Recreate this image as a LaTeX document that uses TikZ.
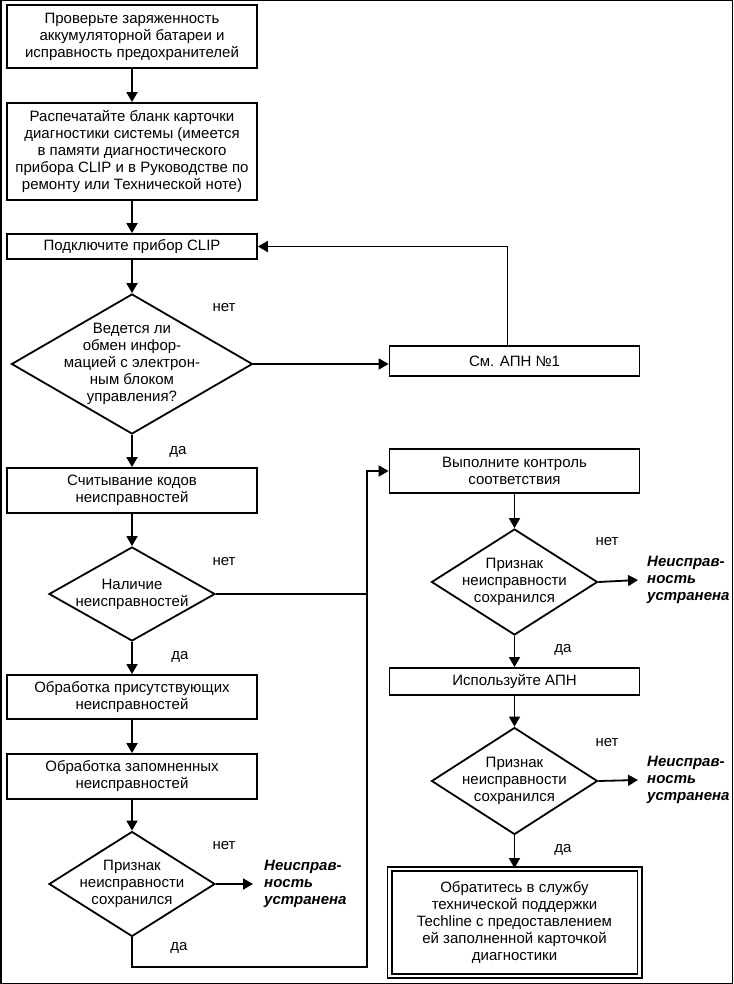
\documentclass[tikz,border=0pt]{standalone}
\usepackage{fontspec}
\setmainfont{Liberation Sans}
\usetikzlibrary{shapes.geometric,arrows.meta}
\begin{document}
\begin{tikzpicture}[x=1pt,y=-1pt,
  every node/.style={font=\fontsize{15}{17}\selectfont},
  box/.style={draw,line width=1.8pt,minimum width=250pt,align=center,inner sep=0pt},
  dia/.style={draw,diamond,line width=1.8pt,inner sep=0pt},
  dtext/.style={align=center,inner sep=0pt},
  arr/.style={line width=1.8pt,-{Triangle[length=10pt,width=11pt]}},
  ln/.style={line width=1.8pt},
  res/.style={anchor=west,align=left,inner sep=0pt,font=\fontsize{15}{17}\selectfont\bfseries\itshape},
  yn/.style={inner sep=0pt}
]
\useasboundingbox (0,0) rectangle (733,984);
\draw[line width=1.5pt] (0.75,0.75) rectangle (732.25,983.25);

% left column
\node[box,minimum height=63pt] (b1) at (132,36.5) {Проверьте заряженность\\аккумуляторной батареи и\\исправность предохранителей};
\node[box,minimum height=97pt] (b2) at (132,151.5) {Распечатайте бланк карточки\\диагностики системы (имеется\\в памяти диагностического\\прибора CLIP и в Руководстве по\\ремонту или Технической ноте)};
\node[box,minimum height=25pt] (b3) at (132,246.5) {Подключите прибор CLIP};
\node[dia,minimum width=241pt,minimum height=140pt] (d1) at (132,364) {};
\node[dtext] (d1t) at (132,364) {Ведется ли\\обмен инфор-\\мацией с электрон-\\ным блоком\\управления?};
\node[box,minimum height=30pt] (apn1) at (514.5,361) {См. АПН №1};
\node[box,minimum height=45pt] (b4) at (132,490.5) {Считывание кодов\\неисправностей};
\node[dia,minimum width=166pt,minimum height=94pt] (d2) at (132,594) {};
\node[dtext] (d2t) at (132,594) {Наличие\\неисправностей};
\node[box,minimum height=44pt] (b5) at (132,697) {Обработка присутствующих\\неисправностей};
\node[box,minimum height=45pt] (b6) at (132,776.5) {Обработка запомненных\\неисправностей};
\node[dia,minimum width=166pt,minimum height=105pt] (d3) at (132,884) {};
\node[dtext] (d3t) at (132,884) {Признак\\неисправности\\сохранился};
\node[res] (t1) at (264,884) {Неисправ-\\ность\\устранена};

% right column
\node[box,minimum height=44pt] (r1) at (514.5,471) {Выполните контроль\\соответствия};
\node[dia,minimum width=166pt,minimum height=106pt] (dr1) at (514.5,582) {};
\node[dtext] (dr1t) at (514.5,582) {Признак\\неисправности\\сохранился};
\node[res] (t2) at (647,580) {Неисправ-\\ность\\устранена};
\node[box,minimum height=27pt] (r2) at (514.5,681.5) {Используйте АПН};
\node[dia,minimum width=166pt,minimum height=107pt] (dr2) at (514.5,781) {};
\node[dtext] (dr2t) at (514.5,781) {Признак\\неисправности\\сохранился};
\node[res] (t3) at (647,780) {Неисправ-\\ность\\устранена};
\node[box,minimum height=107pt,double,double distance=2.4pt,minimum width=250pt] (r3) at (514.5,922.5) {Обратитесь в службу\\технической поддержки\\Techline с предоставлением\\ей заполненной карточкой\\диагностики};

% yes/no labels
\node[yn] (n1) at (224,308) {нет};
\node[yn] (y1) at (178,452) {да};
\node[yn] (n2) at (224,562) {нет};
\node[yn] (y2) at (180,657) {да};
\node[yn] (n3) at (224,846) {нет};
\node[yn] (y3) at (179,948) {да};
\node[yn] (n4) at (607,542) {нет};
\node[yn] (y4) at (563,650) {да};
\node[yn] (n5) at (607,743) {нет};
\node[yn] (y5) at (563,850) {да};

% connectors
\coordinate (jn) at (367,471);
\coordinate (bot) at (132,967);
\draw[arr] (b1) -- (b2);
\draw[arr] (b2) -- (b3);
\draw[arr] (b3) -- (d1);
\draw[arr] (d1.east) -- (d1.east -| apn1.west);
\draw[arr] ([xshift=-7pt]apn1.north) |- (b3.east);
\draw[arr] (d1) -- (b4);
\draw[arr] (b4) -- (d2);
\draw[arr] (d2.east) -| (jn) -- (r1.west);
\draw[arr] (d2) -- (b5);
\draw[arr] (b5) -- (b6);
\draw[arr] (b6) -- (d3);
\draw[arr] (d3.east) -- ([xshift=-11pt]t1.west);
\draw[ln] (d3.south) -- (bot) -| (jn);
\draw[arr] (r1) -- (dr1);
\draw[arr] (dr1.east) -- ([xshift=-9pt]t2.west);
\draw[arr] (dr1) -- (r2);
\draw[arr] (r2) -- (dr2);
\draw[arr] (dr2.east) -- ([xshift=-9pt]t3.west);
\draw[arr] (dr2) -- (r3);
\end{tikzpicture}
\end{document}
